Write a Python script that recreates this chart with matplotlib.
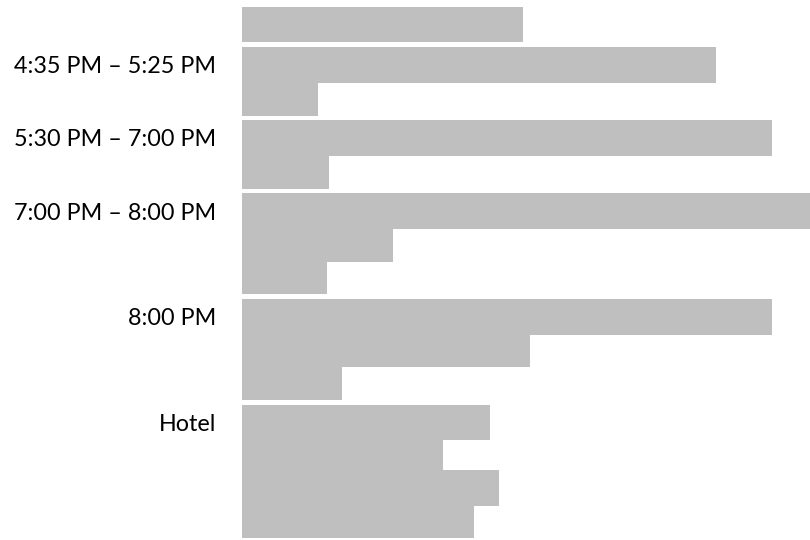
import matplotlib
matplotlib.use('Agg')
import matplotlib.pyplot as plt

# bar lengths (relative units, longest = 100)
values = [49.5, 83.5, 13.4, 93.3, 15.3, 100.0, 26.6, 15.0, 93.3, 50.7, 17.6, 43.7, 35.4, 45.2, 40.8]

# labels shown next to the first bar of each block
labels = {1: '4:35 PM \u2013 5:25 PM', 3: '5:30 PM \u2013 7:00 PM', 5: '7:00 PM \u2013 8:00 PM',
          8: '8:00 PM', 11: 'Hotel'}

# layout: top / bottom edge of each bar in pixels
tops = [6.5, 47, 82.5, 120, 155.5, 193, 229, 262, 299, 334.5, 367, 404.5, 440, 470, 505.5]
bottoms = [41.5, 82.5, 115.5, 155.5, 188.5, 229, 262, 294, 334.5, 367, 400, 440, 470, 505.5, 538]

plt.rcParams['font.family'] = ['Lato', 'DejaVu Sans']

fig = plt.figure(figsize=(8.1, 5.4), dpi=100)
ax = fig.add_axes([242 / 810, 0, (810 - 242) / 810, 1])

centers = [(t + b) / 2 for t, b in zip(tops, bottoms)]
heights = [b - t for t, b in zip(tops, bottoms)]
ax.barh(centers, values, height=heights, color='#bfbfbf', linewidth=0)

ax.set_xlim(0, 100)
ax.set_ylim(540, 0)
ax.set_yticks([centers[i] for i in labels])
ax.set_yticklabels(list(labels.values()), fontsize=16.8, color='#000000')
ax.tick_params(axis='y', length=0, pad=18.5)
ax.set_xticks([])
for s in ax.spines.values():
    s.set_visible(False)

fig.savefig('out.png', dpi=100)
